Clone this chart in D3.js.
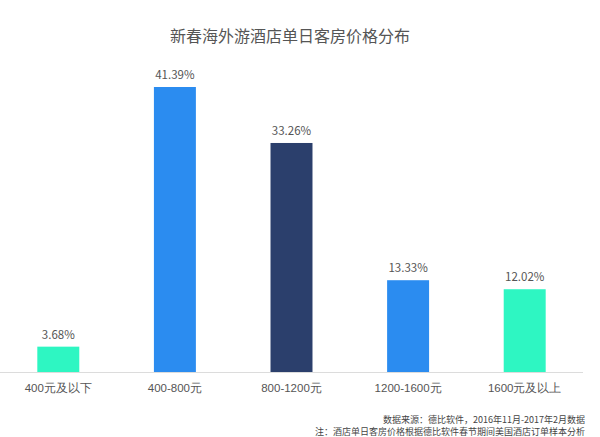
<!DOCTYPE html>
<html><head><meta charset="utf-8">
<script src="https://cdn.jsdelivr.net/npm/d3@7/dist/d3.min.js"></script>
<style>body{margin:0;background:#fff;} svg{display:block;font-family:"Noto Sans CJK SC","Noto Sans",sans-serif;}</style>
</head><body>
<svg id="c" width="600" height="437"></svg>
<script>
const categories = ["400元及以下","400-800元","800-1200元","1200-1600元","1600元及以上"];
const values = [3.68, 41.39, 33.26, 13.33, 12.02];
const colors = ["#2ef6c2","#2b8cf0","#2b3f6c","#2b8cf0","#2ef6c2"];
const title = "新春海外游酒店单日客房价格分布";
const notes = ["数据来源：德比软件，2016年11月-2017年2月数据","注：酒店单日客房价格根据德比软件春节期间美国酒店订单样本分析"];

const svg = d3.select("#c");
const baseY = 372;
const x = d3.scaleBand().domain(categories).range([0, 583]).paddingInner(0.64).paddingOuter(0.32);
const y = d3.scaleLinear().domain([0, 41.39]).range([baseY, 87]);

svg.append("text").attr("x", 290).attr("y", 42).attr("text-anchor","middle")
  .attr("font-size", 16).attr("fill","#555").text(title);

svg.selectAll("rect.bar").data(values).join("rect").attr("class","bar")
  .attr("x", (d,i)=>x(categories[i])).attr("width", x.bandwidth())
  .attr("y", d=>y(d)).attr("height", d=>baseY - y(d))
  .attr("fill", (d,i)=>colors[i]);

svg.selectAll("text.val").data(values).join("text").attr("class","val")
  .attr("x", (d,i)=>x(categories[i]) + x.bandwidth()/2).attr("y", d=>y(d) - 8)
  .attr("text-anchor","middle").attr("font-size", 11.5).attr("fill","#555")
  .text(d=>d.toFixed(2) + "%");

const axis = d3.axisBottom(x).tickSize(0).tickPadding(12);
const g = svg.append("g").attr("transform",`translate(0,${baseY})`).call(axis);
g.select(".domain").attr("stroke","#dcdcdc").attr("d","M0,0.5H583");
g.selectAll("text").attr("font-size", 11.5).attr("fill","#555").attr("font-family","inherit");

svg.selectAll("text.note").data(notes).join("text").attr("class","note")
  .attr("x", 585).attr("y", (d,i)=>423 + i*12).attr("text-anchor","end")
  .attr("font-size", 9).attr("fill","#444").text(d=>d);
</script>
</body></html>
